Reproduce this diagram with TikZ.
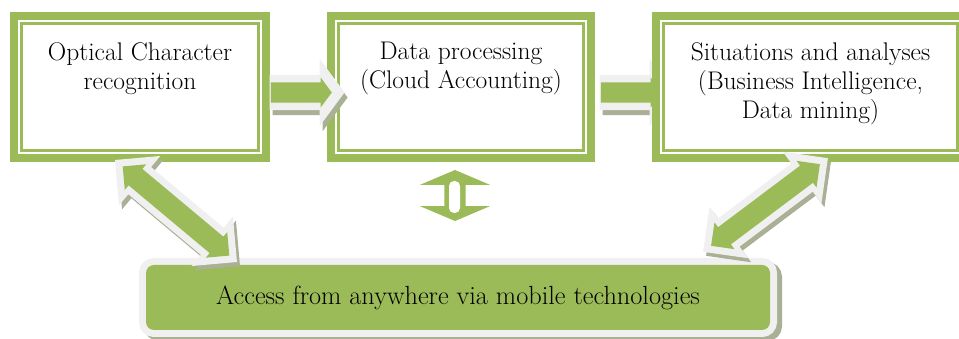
\documentclass[tikz,border=0pt]{standalone}
\usetikzlibrary{shapes.arrows,shadows,positioning}
\definecolor{olivegreen}{HTML}{9BBB59}
\definecolor{flowgrey}{HTML}{F0F0F0}
\definecolor{shadegrey}{HTML}{A9B095}

\begin{document}
\begin{tikzpicture}[x=1pt, y=1pt,
    stagebox/.style={rectangle, fill=white, draw=olivegreen, line width=3pt, minimum height=127pt,
      preaction={draw=olivegreen, line width=23pt}, preaction={draw=white, line width=7pt}},
    stagetext/.style={align=center, inner sep=0pt, font=\fontsize{25.5}{29}\selectfont},
    flowout/.style={single arrow, fill=flowgrey, inner xsep=0pt, inner ysep=17.5pt,
      single arrow head extend=16pt, single arrow tip angle=107, minimum height=75pt,
      drop shadow={shadow xshift=3pt, shadow yshift=-5pt, fill=shadegrey, opacity=1}},
    flowin/.style={single arrow, fill=olivegreen, inner xsep=0pt, inner ysep=10pt,
      single arrow head extend=5pt, single arrow tip angle=107, minimum height=61pt},
    linkout/.style={double arrow, fill=flowgrey, inner xsep=0pt, inner ysep=17.5pt,
      double arrow head extend=14.5pt, double arrow tip angle=90,
      drop shadow={shadow xshift=3pt, shadow yshift=-4pt, fill=shadegrey, opacity=1}},
    linkin/.style={double arrow, fill=olivegreen, inner xsep=0pt, inner ysep=10.5pt,
      double arrow head extend=6pt, double arrow tip angle=90},
    accessbox/.style={rectangle, rounded corners=8pt, fill=olivegreen, minimum width=624pt, minimum height=65pt,
      drop shadow={shadow xshift=5pt, shadow yshift=-4pt, fill=shadegrey, draw=shadegrey, line width=14pt, opacity=1},
      preaction={draw=flowgrey, line width=14pt}, font=\fontsize{26.3}{29}\selectfont}]
  \useasboundingbox (0,0) rectangle (959,339);

  \node[stagebox, minimum width=237pt] (ocr) at (140,252) {};
  \node[stagetext, below=20pt of ocr.north] (ocrtext) {Optical Character\\recognition};
  \node[stagebox, minimum width=245pt] (cloud) at (461,252) {};
  \node[stagetext, below=20pt of cloud.north] (cloudtext) {Data processing\\(Cloud Accounting)};

  \node[flowout] (ocrcloudout) at (300.5,246.5) {};
  \node[flowin] (ocrcloudin) at (297.5,246.5) {};
  \node[flowout] (cloudbiout) at (630.5,246.5) {};
  \node[flowin] (cloudbiin) at (627.5,246.5) {};

  \node[stagebox, minimum width=294pt] (bi) at (810.5,252) {};
  \node[stagetext, below=20pt of bi.north] (bitext) {Situations and analyses\\(Business Intelligence,\\Data mining)};

  \node[accessbox] (mobile) at (458,41.5) {Access from anywhere via mobile technologies};

  % links to the mobile access
  \node[linkout, rotate=-39.9, minimum height=159pt] (ocrmobout) at (176,128) {};
  \node[linkin, rotate=-39.9, minimum height=139pt] (ocrmobin) at (176,128) {};
  \node[linkout, rotate=36.9, minimum height=156pt] (bimobout) at (765.5,134) {};
  \node[linkin, rotate=36.9, minimum height=136pt] (bimobin) at (765.5,134) {};

  \node[double arrow, fill=olivegreen, inner xsep=0pt, inner ysep=10.5pt, double arrow head extend=24.5pt,
    double arrow tip angle=134, minimum height=51pt, rotate=90] (cloudmob) at (455,143.5) {};
  \node[fill=white, rounded corners=5pt, minimum width=11pt, minimum height=32pt, inner sep=0pt] (cloudslot) at (454.5,142) {};
\end{tikzpicture}
\end{document}
